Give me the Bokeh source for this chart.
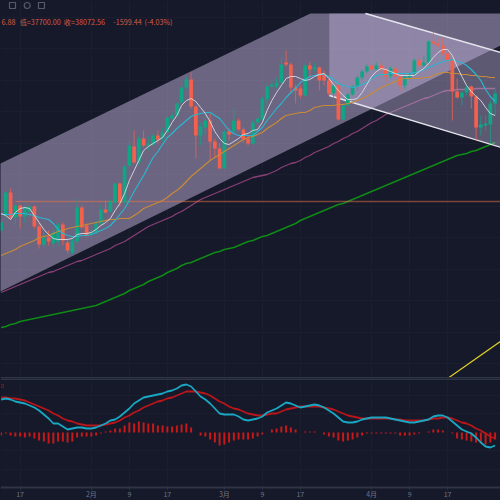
from bokeh.plotting import figure
from bokeh.layouts import column
from bokeh.models import Range1d, FixedTicker, Span, Label
from bokeh.embed import file_html
from bokeh.resources import INLINE
import numpy as np

# Values, as chart levels (larger number = lower on the chart),
# turned into heights above a common base further down.
opens = [230,215,192,217,205,216,211,206,226,244,237,243,241,224,242,252,241,207,225,234,232,223,209,211,202,183,202,165,146,162,138,145,144,135,138,132,118,115,102,87,79,106,135,127,120,141,148,168,131,131,120,129,138,143,122,119,99,86,86,82,62,64,87,88,95,65,69,67,73,80,93,85,119,105,94,86,77,71,65,69,65,69,75,68,76,85,77,73,60,65,62,41,43,45,53,60,91,97,92,86,96,127,125,124,103]
closes = [222,192,217,205,216,207,206,226,244,237,241,232,224,240,250,240,207,227,235,232,223,209,212,201,183,202,166,145,162,138,145,143,135,139,132,117,115,103,87,79,106,135,126,120,141,148,168,131,134,120,129,139,143,122,118,98,86,84,82,64,64,87,90,95,65,69,67,80,80,93,85,119,105,94,86,77,71,66,69,65,69,76,68,76,85,76,74,60,65,62,41,43,45,53,60,91,97,92,87,96,127,124,123,103,93]
highs = [218,190,188,204,204,205,204,205,222,232,230,228,222,222,238,236,198,205,223,228,219,205,200,199,182,182,165,140,130,135,130,136,133,130,127,115,112,102,80,76,72,105,122,112,113,138,143,130,128,107,118,127,135,120,115,96,83,80,77,57,50,62,84,85,63,61,62,66,70,78,83,84,104,92,85,75,69,64,63,62,62,67,66,65,74,74,72,58,57,55,40,31,38,37,50,58,78,90,85,85,95,115,115,100,88]
lows = [232,218,218,225,228,222,218,228,248,247,245,247,246,245,253,254,243,228,236,236,234,224,213,212,204,206,204,167,163,165,147,150,146,143,141,133,120,117,103,89,108,158,145,135,160,157,168,168,140,133,130,142,145,144,125,120,105,88,88,83,66,93,103,98,96,78,72,90,85,95,105,120,120,106,95,90,80,73,71,70,71,82,78,78,90,88,79,75,67,67,63,45,47,55,62,120,98,105,95,108,140,135,130,143,115]

ma_white = [213,215,219,212,208,207,208,215,222,229,234,238,239,239,239,238,234,233,233,232,229,225,222,218,210,203,193,180,170,160,150,146,143,140,137,130,122,115,105,100,98,101,107,113,121,131,138,143,144,141,138,134,133,130,129,122,110,100,92,85,78,76,76,78,80,79,76,74,73,78,84,90,95,99,99,98,92,84,76,71,68,69,71,73,75,75,75,75,71,68,63,57,52,49,49,55,66,76,85,91,96,100,107,113,115]
ma_cyan = [214,214,214,213,213,213,214,215,217,218,219,223,229,233,235,236,236,235,235,234,232,230,228,225,220,214,208,200,191,183,175,166,157,151,144,137,133,128,124,120,116,114,113,112,112,115,118,124,130,133,135,135,135,135,131,127,120,114,108,103,97,92,88,82,79,76,75,74,74,76,79,83,85,86,87,86,84,82,78,75,74,74,73,73,73,73,73,72,71,69,67,65,63,61,60,59,61,62,65,69,74,80,89,96,101]
ma_orange = [255,253,251,249,246,244,242,240,237,236,235,233,231,230,228,227,226,225,224,223,222,221,220,219,219,218,218,218,215,212,208,206,204,202,200,197,193,190,186,181,176,172,168,164,160,157,154,151,148,145,142,139,137,136,134,132,128,125,122,118,115,114,113,112,112,110,107,106,105,105,105,104,104,103,102,100,98,96,93,90,87,85,83,81,79,78,78,78,78,77,77,75,73,72,72,73,73,74,74,75,75,76,76,77,77]
ma_purple = [292,290,288,286,284,282,280,278,276,274,272,271,269,267,265,263,261,260,258,256,254,252,250,248,245,243,241,238,235,232,229,226,224,222,220,218,216,213,211,208,205,202,199,197,195,193,191,189,187,185,183,181,179,177,176,175,174,172,170,167,165,163,162,160,157,155,152,150,148,146,143,141,138,136,133,131,128,125,122,120,117,114,112,110,108,106,104,102,100,98,97,95,93,91,90,90,89,89,89,89,88,88,88,88,88]
ma_green = [327,326,324,323,321,320,319,318,317,316,315,314,313,312,311,310,309,308,307,306,305,303,301,299,297,295,293,290,288,286,284,281,279,277,275,272,270,268,265,263,262,260,258,256,254,252,251,249,248,247,245,243,241,240,238,236,235,233,231,229,227,225,223,220,218,216,214,212,210,208,206,204,203,201,199,197,195,193,191,189,187,185,183,181,179,177,175,173,171,169,167,165,163,161,159,157,155,154,153,151,150,148,146,144,142]

macd_dif = [399,398,399,401,402,403,405,407,410,414,418,423,423,426,429,428,427,427,428,428,427,425,423,420,419,416,412,408,403,400,397,396,395,394,393,391,390,388,385,384,386,391,396,399,403,408,413,414,414,414,416,419,420,419,418,416,412,410,408,405,402,403,405,407,406,405,404,405,407,410,413,417,421,422,422,421,419,418,417,417,417,417,418,419,420,421,422,422,421,420,419,416,415,415,417,421,425,429,431,433,437,442,446,447,445]
macd_dea = [397,397,398,398,399,400,402,404,406,408,410,413,415,418,420,421,423,424,425,425,425,425,424,423,422,420,417,415,412,410,407,405,403,401,400,398,397,395,393,391,391,391,392,393,395,398,401,403,406,408,409,411,413,414,415,415,414,413,413,411,409,408,407,406,406,406,406,406,407,408,409,411,413,415,416,417,418,418,418,418,418,418,418,419,419,420,420,420,420,420,419,418,418,417,417,418,420,422,423,425,428,430,433,436,438]
macd_hist = [435,433,435,436,436,437,436,438,440,441,443,443,441,441,442,441,437,436,436,436,435,433,431,430,428,428,425,422,423,421,422,423,423,425,425,426,426,425,424,423,427,432,435,436,439,442,445,444,442,440,439,439,439,438,436,434,432,429,428,426,425,427,429,432,431,431,431,432,434,436,437,440,441,440,439,437,435,433,433,433,433,433,433,433,435,435,435,434,433,432,431,429,429,430,432,433,438,439,440,441,442,443,444,442,439]

tick_days = [4,19,27,35,47,55,63,78,86,94]
tick_labels = ["17","2月","9","17","3月","9","17","4月","9","17"]
pos_levels = [17,48,80,111,143,174,206,237,269,300,332,363]
macd_levels = [395,413,450,469]

header_texts = ["6.88", "低=37700.00", "收=38072.56", "-1599.44", "(-4.03%)"]
header_days = [0.1, 3.9, 13.2, 23.6, 30.2]

# drawing-tool shapes, as (day, level) anchors
rise_x = [-1,65.1,106,106,-1]
rise_y = [165,13,13,43,293]
fall_x = [69.1,76.7,106,106,69.1]
fall_y = [13,13,53,148,95]
fall_top_x = [76.7,106]
fall_top_y = [13,53]
fall_bot_x = [69.1,106]
fall_bot_y = [95,148]
yellow_x = [94,106]
yellow_y = [378,338]
support_level = 201
support_from = 3
icon_days = [2.4,5.5,8.5]
icon_marks = ["square","circle","square"]
icon_level = 5

BASE = 500
BG = "#151929"
UP, DOWN = "#0fa585", "#f4604c"
GRID = "#1a1e2f"
SEP = "#2f3545"
days = np.arange(len(opens))
lvl = lambda a: BASE - np.asarray(a, dtype=float)
X0 = (0 - 0.6) / 4.75
X1 = (500 - 0.6) / 4.75

main = figure(width=500, height=378, output_backend="svg", toolbar_location=None,
              x_range=Range1d(X0, X1), y_range=Range1d(BASE - 378, BASE - 0),
              background_fill_color=BG, border_fill_color=BG, min_border=0,
              outline_line_color=None)
main.xaxis.visible = False
main.yaxis.visible = False
main.xaxis.ticker = FixedTicker(ticks=tick_days)
main.yaxis.ticker = FixedTicker(ticks=[BASE - v for v in pos_levels])
main.grid.grid_line_color = GRID
main.grid.grid_line_width = 1

main.line(days, lvl(ma_green), line_color="#0f8a16", line_width=1.5)
main.line(days, lvl(ma_purple), line_color="#8a3f78", line_width=1.3)

main.patch(rise_x, lvl(rise_y), fill_color="#c2b2da", fill_alpha=0.5, line_color=None)
main.patch(fall_x, lvl(fall_y), fill_color="#c2b2da", fill_alpha=0.42, line_color=None)
main.line(fall_top_x, lvl(fall_top_y), line_color="#e6e6ee", line_width=1.4)
main.line(fall_bot_x, lvl(fall_bot_y), line_color="#e6e6ee", line_width=1.4)
main.line([support_from, 106], lvl([support_level, support_level]),
          line_color="#e8744e", line_alpha=0.5, line_width=1.3)
main.line(yellow_x, lvl(yellow_y), line_color="#e3d41e", line_width=1.2)

o, c, h, l = map(lvl, (opens, closes, highs, lows))
colors = [UP if a > b else DOWN for a, b in zip(c, o)]
main.segment(days, h, days, l, line_color=colors, line_width=1, line_alpha=0.75)
main.vbar(days, width=0.78, top=np.maximum(o, c), bottom=np.minimum(o, c),
          fill_color=colors, line_color=None)

main.line(days, lvl(ma_orange), line_color="#c98a35", line_width=1.2)
main.line(days, lvl(ma_cyan), line_color="#29b6d0", line_width=1.2)
main.line(days, lvl(ma_white), line_color="#dcdce4", line_width=1.0, line_alpha=0.9)

for text, day in zip(header_texts, header_days):
    main.add_layout(Label(x=day, y=BASE - 21, text=text, text_color="#d65a48",
                          text_font_size="7.2px", text_font="Noto Sans CJK SC",
                          text_baseline="middle"))
for day, mark in zip(icon_days, icon_marks):
    main.scatter([day], [BASE - icon_level], marker=mark, size=6, fill_color=None,
                 line_color="#565a6c", line_width=1.2)
main.add_layout(Span(location=BASE - 377.6, dimension="width", line_color=SEP, line_width=2))

macd = figure(width=500, height=122, output_backend="svg", toolbar_location=None,
              x_range=main.x_range, y_range=Range1d(432 - 500, 432 - 378),
              background_fill_color=BG, border_fill_color=BG, min_border=0,
              outline_line_color=None)
macd.yaxis.visible = False
macd.yaxis.ticker = FixedTicker(ticks=[432 - v for v in macd_levels])
macd.grid.grid_line_color = GRID
macd.grid.grid_line_width = 1

zero = lambda a: 432 - np.asarray(a, dtype=float)
macd.vbar(days, width=0.42, top=zero(macd_hist), bottom=0, fill_color="#c8191a", line_color=None)
macd.line(days, zero(macd_dea), line_color="#b8161a", line_width=1.8)
macd.line(days, zero(macd_dif), line_color="#19a8c4", line_width=1.8)
macd.add_layout(Span(location=432 - 378.4, dimension="width", line_color=SEP, line_width=2))
macd.add_layout(Label(x=X0, y=432 - 385, text="0", text_color="#a8201c", text_font_size="6px",
                      text_baseline="middle"))

ax = macd.xaxis[0]
ax.ticker = FixedTicker(ticks=tick_days)
ax.fixed_location = 432 - 486.5
ax.major_label_overrides = {d: t for d, t in zip(tick_days, tick_labels)}
ax.axis_line_color = SEP
ax.axis_line_width = 2
ax.major_tick_line_color = SEP
ax.major_tick_in = 0
ax.major_tick_out = 2
ax.minor_tick_line_color = None
ax.major_label_standoff = 0
ax.major_label_text_color = "#6f7486"
ax.major_label_text_font_size = "7px"
ax.major_label_text_font = "Noto Sans CJK SC"

page = column(main, macd, spacing=0)
html = file_html(page, INLINE)
html = html.replace("</head>", "<style>html,body{background:%s}</style></head>" % BG)
open("out.html", "w").write(html)
